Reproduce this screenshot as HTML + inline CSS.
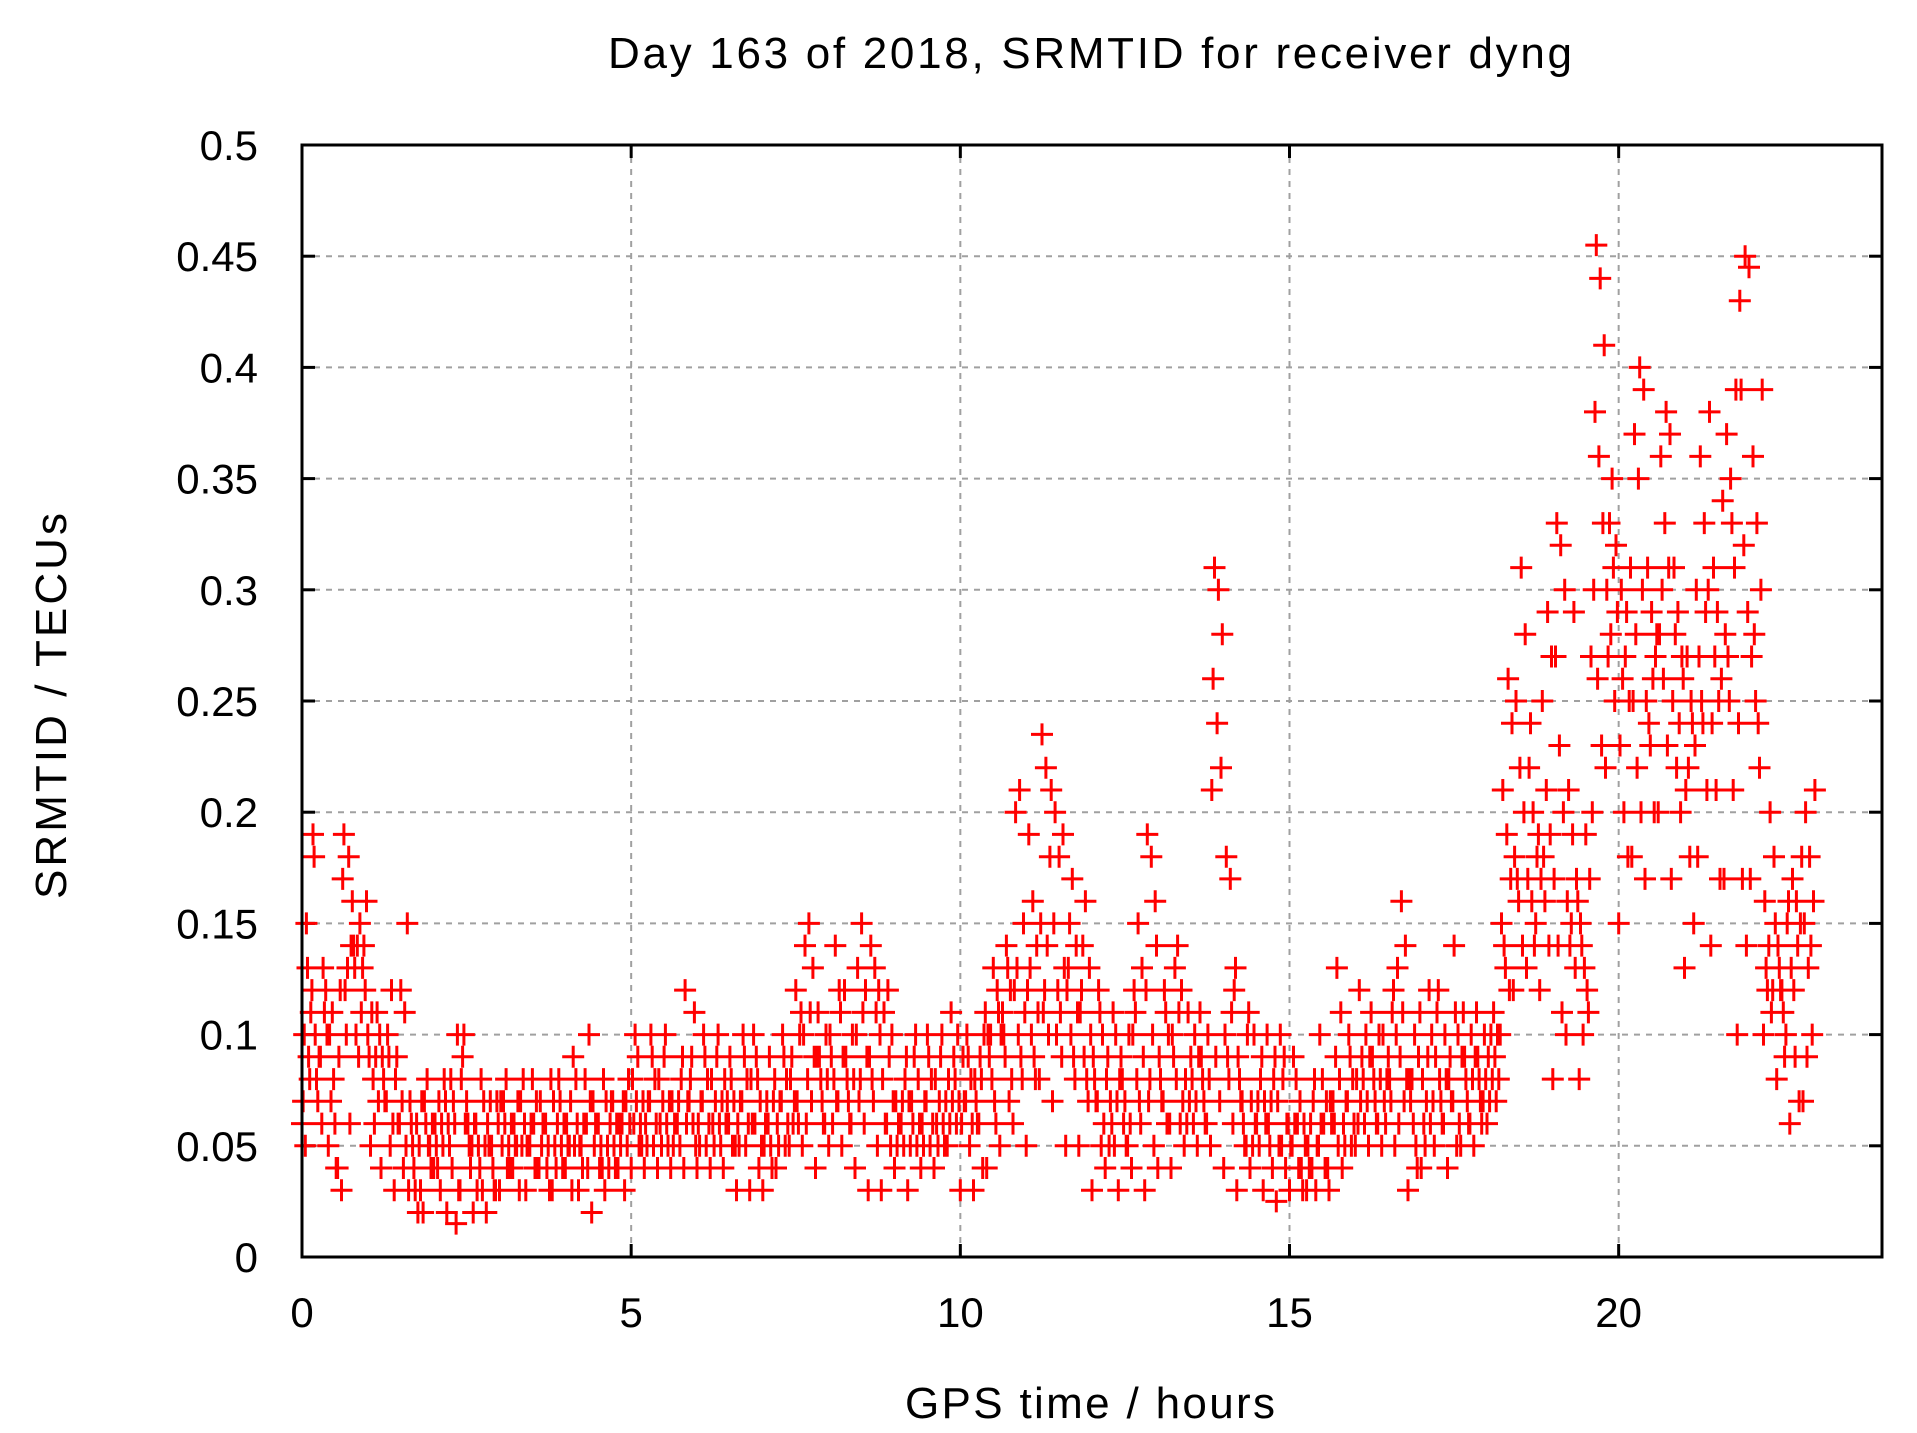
<!DOCTYPE html>
<html><head><meta charset="utf-8"><style>
html,body{margin:0;padding:0;background:#fff;}
svg{display:block;font-family:"Liberation Sans",sans-serif;}
</style></head><body>
<svg id="chart" width="1917" height="1433" viewBox="0 0 1917 1433" xmlns="http://www.w3.org/2000/svg">
<rect width="1917" height="1433" fill="#fff"/>
<text x="1090" y="68" font-size="44" text-anchor="middle" textLength="964" fill="#000">Day 163 of 2018, SRMTID for receiver dyng</text>
<text x="1090" y="1418" font-size="44" text-anchor="middle" textLength="370" fill="#000">GPS time / hours</text>
<text x="0" y="0" font-size="44" text-anchor="middle" textLength="386" fill="#000" transform="translate(66,706) rotate(-90)">SRMTID / TECUs</text>
<g id="grid"></g><g id="ticks"></g><g id="marks"></g>
<rect x="302" y="145" width="1580" height="1112" fill="none" stroke="#000" stroke-width="3"/>
</svg>
<script>
const xTicks=[0,5,10,15,20];
const yTicks=[0,0.05,0.1,0.15,0.2,0.25,0.3,0.35,0.4,0.45,0.5];
const yTickLabels=["0","0.05","0.1","0.15","0.2","0.25","0.3","0.35","0.4","0.45","0.5"];
const binStart=[0,0.2,0.4,0.6,0.8,1,1.2,1.4,1.6,1.8,2,2.2,2.4,2.6,2.8,3,3.2,3.4,3.6,3.8,4,4.2,4.4,4.6,4.8,5,5.2,5.4,5.6,5.8,6,6.2,6.4,6.6,6.8,7,7.2,7.4,7.6,7.8,8,8.2,8.4,8.6,8.8,9,9.2,9.4,9.6,9.8,10,10.2,10.4,10.6,10.8,11,11.2,11.4,11.6,11.8,12,12.2,12.4,12.6,12.8,13,13.2,13.4,13.6,13.8,14,14.2,14.4,14.6,14.8,15,15.2,15.4,15.6,15.8,16,16.2,16.4,16.6,16.8,17,17.2,17.4,17.6,17.8,18,18.2,18.4,18.6,18.8,19,19.2,19.4,19.6,19.8,20,20.2,20.4,20.6,20.8,21,21.2,21.4,21.6,21.8,22,22.2,22.4,22.6,22.8];
const binValues=[
[.06,.08,.1,.12,.15,.18,.09,.07,.11,.05,.19,.13],[.1,.11,.09,.08,.12,.06,.07,.1,.13,.09],[.05,.04,.08,.1,.09,.06,.07,.12,.04,.11],[.03,.06,.12,.14,.18,.19,.16,.13,.17,.14,.1],[.13,.14,.15,.1,.12,.11,.14,.16,.13,.09],
[.1,.11,.08,.09,.07,.06,.05,.1,.09,.11],[.04,.05,.07,.09,.12,.1,.08,.06,.09,.07],[.03,.04,.06,.08,.11,.12,.09,.05,.07,.06],[.15,.06,.05,.03,.02,.04,.07,.05,.03,.06],[.03,.05,.06,.07,.04,.08,.02,.06,.05,.07],
[.04,.05,.07,.06,.08,.03,.05,.07,.06,.04],[.02,.015,.04,.06,.1,.07,.05,.03,.06,.08],[.03,.05,.06,.08,.04,.07,.09,.05,.06,.1],[.02,.03,.05,.06,.07,.04,.06,.05,.08,.03],[.02,.03,.05,.06,.07,.04,.05,.06,.03,.07],
[.03,.05,.06,.07,.04,.08,.05,.06,.04,.07],[.04,.05,.07,.06,.08,.03,.05,.06,.07,.05],[.03,.04,.06,.05,.07,.08,.05,.04,.06,.05],[.04,.05,.06,.07,.03,.06,.05,.08,.04,.06],[.03,.05,.06,.07,.04,.08,.05,.06,.07,.04],
[.04,.05,.07,.06,.08,.03,.05,.06,.09,.05],[.03,.04,.06,.05,.1,.08,.05,.07,.06,.04],[.02,.05,.06,.07,.04,.06,.05,.08,.04,.06],[.03,.05,.06,.07,.04,.07,.05,.06,.07,.04],[.04,.05,.07,.06,.08,.03,.05,.06,.07,.06],
[.04,.06,.07,.08,.05,.09,.06,.07,.05,.1],[.04,.05,.07,.06,.08,.1,.05,.06,.09,.07],[.04,.06,.07,.08,.05,.09,.06,.07,.1,.05],[.04,.05,.06,.07,.08,.06,.05,.09,.07,.06],[.04,.06,.07,.12,.11,.08,.06,.05,.09,.07],
[.04,.05,.07,.06,.08,.1,.05,.06,.09,.07],[.04,.06,.07,.08,.05,.09,.06,.07,.1,.05],[.04,.05,.06,.08,.07,.09,.06,.05,.08,.07],[.03,.05,.07,.06,.08,.1,.05,.06,.09,.07],[.03,.04,.06,.08,.07,.09,.06,.05,.08,.1],
[.03,.04,.06,.05,.07,.09,.06,.08,.05,.07],[.04,.05,.07,.06,.08,.1,.05,.06,.09,.07],[.05,.06,.07,.08,.1,.12,.09,.11,.07,.06],[.05,.07,.08,.1,.13,.15,.14,.09,.11,.06],[.04,.06,.08,.09,.1,.07,.11,.08,.06,.09],
[.05,.07,.08,.1,.12,.14,.09,.11,.07,.06],[.05,.06,.08,.09,.1,.07,.12,.08,.06,.09],[.04,.06,.08,.1,.12,.15,.13,.09,.11,.07],[.03,.05,.07,.09,.12,.13,.14,.1,.11,.08],[.03,.05,.06,.08,.1,.12,.11,.07,.09,.06],
[.04,.05,.06,.07,.08,.06,.05,.09,.07,.06],[.03,.05,.06,.07,.08,.09,.05,.06,.1,.07],[.04,.05,.07,.06,.08,.1,.05,.06,.09,.07],[.04,.06,.07,.08,.05,.09,.06,.07,.1,.05],[.05,.06,.07,.08,.1,.09,.06,.07,.08,.11],
[.03,.05,.07,.06,.08,.1,.09,.06,.09,.07],[.03,.04,.06,.08,.1,.09,.07,.11,.08,.06],[.04,.06,.08,.1,.12,.13,.09,.11,.07,.1],[.05,.07,.09,.1,.12,.14,.11,.08,.13,.1],[.06,.08,.1,.12,.15,.21,.2,.11,.09,.13],
[.05,.08,.1,.12,.14,.16,.19,.11,.09,.13],[.08,.1,.12,.15,.18,.22,.235,.21,.14,.11],[.07,.09,.12,.15,.19,.18,.2,.13,.11,.1],[.05,.08,.1,.12,.14,.17,.13,.11,.09,.15],[.05,.07,.09,.11,.13,.16,.12,.1,.08,.14],
[.03,.05,.07,.09,.1,.12,.08,.06,.11,.07],[.04,.05,.07,.08,.1,.06,.09,.07,.11,.05],[.03,.05,.06,.08,.1,.07,.09,.06,.05,.08],[.04,.06,.08,.1,.13,.15,.12,.09,.07,.11],[.03,.05,.08,.12,.16,.18,.19,.14,.1,.07],
[.04,.06,.07,.09,.1,.12,.08,.06,.11,.07],[.04,.06,.08,.1,.12,.14,.09,.07,.11,.13],[.05,.06,.07,.08,.1,.09,.06,.07,.08,.11],[.05,.06,.08,.09,.1,.07,.11,.08,.06,.09],[.05,.07,.09,.21,.22,.24,.26,.28,.3,.31],
[.04,.06,.08,.1,.12,.17,.18,.13,.11,.09],[.03,.05,.07,.09,.1,.06,.08,.11,.05,.07],[.04,.05,.06,.07,.08,.06,.05,.09,.07,.1],[.03,.04,.06,.07,.08,.05,.06,.09,.07,.1],[.025,.04,.05,.07,.06,.08,.05,.06,.09,.1],
[.03,.04,.06,.05,.07,.08,.05,.04,.06,.09],[.03,.04,.05,.06,.07,.04,.05,.08,.06,.03],[.03,.04,.06,.05,.07,.08,.05,.04,.06,.1],[.03,.05,.06,.07,.08,.09,.06,.11,.13,.07],[.04,.05,.07,.06,.08,.1,.05,.06,.09,.07],
[.05,.06,.07,.08,.1,.09,.06,.07,.08,.12],[.05,.06,.08,.09,.1,.07,.11,.08,.06,.09],[.05,.07,.08,.1,.11,.09,.07,.12,.08,.06],[.05,.07,.09,.1,.14,.16,.13,.08,.11,.06],[.03,.04,.06,.08,.09,.1,.07,.11,.05,.08],
[.04,.06,.07,.08,.1,.09,.06,.07,.12,.05],[.05,.06,.08,.09,.1,.07,.11,.08,.06,.12],[.04,.05,.07,.08,.1,.14,.09,.06,.11,.07],[.05,.06,.08,.09,.1,.07,.11,.08,.06,.09],[.05,.07,.08,.09,.1,.07,.11,.08,.06,.09],
[.06,.07,.08,.09,.1,.11,.07,.08,.09,.1],[.1,.12,.13,.15,.17,.19,.21,.24,.26,.14],[.12,.14,.16,.18,.2,.22,.25,.28,.31,.17],[.13,.15,.16,.17,.18,.2,.22,.19,.14,.24],[.12,.14,.16,.17,.19,.21,.25,.27,.29,.18],
[.08,.11,.14,.17,.2,.23,.27,.3,.32,.33],[.1,.13,.15,.16,.17,.19,.21,.16,.29,.14],[.08,.11,.13,.15,.17,.19,.14,.27,.12,.1],[.2,.23,.26,.3,.33,.36,.38,.41,.44,.455],[.22,.25,.28,.3,.32,.35,.27,.29,.31,.33],
[.15,.18,.2,.23,.25,.27,.3,.31,.29,.26],[.18,.2,.22,.25,.3,.35,.37,.39,.4,.28],[.17,.2,.23,.25,.27,.29,.31,.28,.26,.24],[.2,.23,.26,.28,.31,.33,.36,.37,.38,.3],[.17,.2,.22,.25,.27,.29,.31,.26,.24,.28],
[.13,.15,.18,.21,.23,.25,.27,.3,.24,.22],[.18,.21,.24,.27,.3,.33,.36,.38,.29,.25],[.14,.17,.21,.24,.26,.29,.31,.34,.25,.27],[.17,.21,.25,.28,.31,.35,.37,.39,.33,.27],[.1,.14,.17,.24,.29,.32,.43,.445,.45,.39],
[.17,.22,.25,.27,.3,.33,.36,.39,.24,.28],[.1,.12,.14,.16,.18,.2,.13,.15,.11,.12],[.08,.1,.12,.14,.15,.11,.13,.16,.09,.12],[.06,.07,.09,.13,.15,.16,.17,.18,.14,.12],[.07,.1,.13,.15,.16,.18,.2,.21,.14,.09]
];
const binWidth=0.2;
const NS="http://www.w3.org/2000/svg";
const L=302,R=1882,T=145,B=1257,XMAX=24,YMAX=0.5;
function sx(v){return L+(v/XMAX)*(R-L);}
function sy(v){return B-(v/YMAX)*(B-T);}
function mk(tag,attrs,parent){const e=document.createElementNS(NS,tag);for(const k in attrs)e.setAttribute(k,attrs[k]);parent.appendChild(e);return e;}
const grid=document.getElementById('grid'),ticks=document.getElementById('ticks'),marks=document.getElementById('marks');
yTicks.forEach((v,i)=>{
  const y=sy(v);
  if(i>0&&i<yTicks.length-1){
    const g=mk('line',{x1:L,x2:R,y1:y,y2:y,stroke:'#a0a0a0','stroke-width':2,'stroke-dasharray':'6,6'},grid);
    
    
  }
  const tl=mk('line',{x1:L,x2:L+13,y1:y,y2:y,stroke:'#000','stroke-width':3},ticks);
  
  
  const tr=mk('line',{x1:R-13,x2:R,y1:y,y2:y,stroke:'#000','stroke-width':3},ticks);
  
  
  const t=mk('text',{x:258,y:y+15,'font-size':42,'text-anchor':'end',fill:'#000'},ticks);
  t.textContent=yTickLabels[i];
  
  
});
xTicks.forEach(v=>{
  const x=sx(v);
  if(v>0){
    const g=mk('line',{x1:x,x2:x,y1:T,y2:B,stroke:'#a0a0a0','stroke-width':2,'stroke-dasharray':'6,6'},grid);
    
    
  }
  const tb=mk('line',{x1:x,x2:x,y1:B-13,y2:B,stroke:'#000','stroke-width':3},ticks);
  
  
  const tt=mk('line',{x1:x,x2:x,y1:T,y2:T+13,stroke:'#000','stroke-width':3},ticks);
  
  
  const t=mk('text',{x:x,y:1327,'font-size':42,'text-anchor':'middle',fill:'#000'},ticks);
  t.textContent=String(v);
  
  
});
let d='';
binStart.forEach((t0,b)=>{
  const vals=binValues[b];
  vals.forEach((v,i)=>{
    const x=sx(t0+binWidth*((i*7)%vals.length)/vals.length);
    const y=sy(v);
    d+='M'+(x-11).toFixed(1)+' '+y.toFixed(1)+'h22M'+x.toFixed(1)+' '+(y-11).toFixed(1)+'v22';
  });
});
const p=mk('path',{d:d,stroke:'#ff0000','stroke-width':3,fill:'none'},marks);


</script>
</body></html>
